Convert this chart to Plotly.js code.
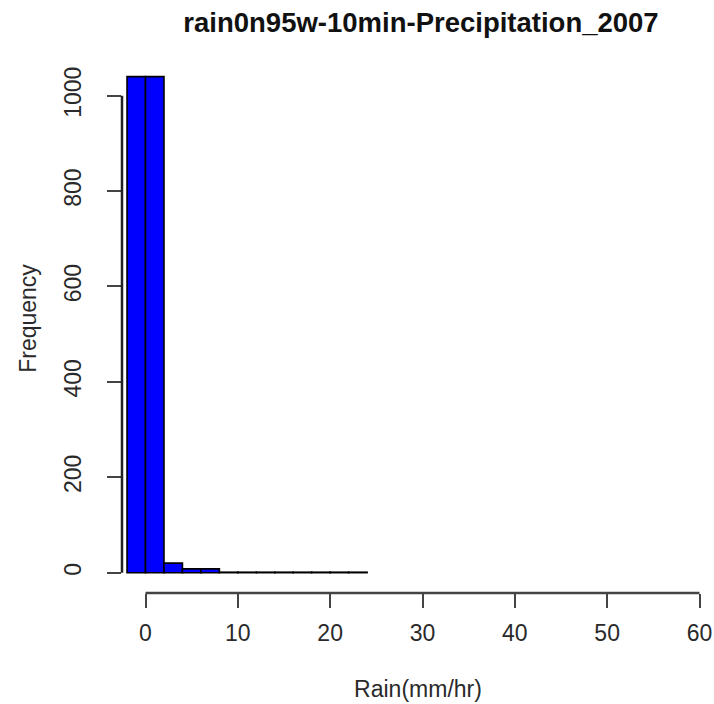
<!DOCTYPE html>
<html>
<head>
<meta charset="utf-8">
<script src="https://cdn.plot.ly/plotly-3.0.1.min.js"></script>
<style>html,body{margin:0;padding:0;background:#fff;}#chart{width:714px;height:704px;}</style>
</head>
<body>
<div id="chart"></div>
<script>
// Histogram bin edges (Rain, mm/hr) and counts
const binEdges = [-2, 0, 2, 4, 6, 8, 10, 12, 14, 16, 18, 20, 22, 24];
const counts   = [1040, 1040, 20, 8, 8, 1, 1, 1, 1, 1, 1, 1, 1];
const xTicks = [0, 10, 20, 30, 40, 50, 60];
const yTicks = [0, 200, 400, 600, 800, 1000];
const chartTitle = "rain0n95w-10min-Precipitation_2007";
const xTitle = "Rain(mm/hr)";
const yTitle = "Frequency";

const mids = counts.map((c, i) => (binEdges[i] + binEdges[i + 1]) / 2);
const widths = counts.map((c, i) => binEdges[i + 1] - binEdges[i]);

const font = {family: "Liberation Sans, Arial, sans-serif", size: 23, color: "#2a2a2a"};

const trace = {
  type: "bar",
  x: mids,
  y: counts,
  width: widths,
  marker: {color: "#0000ff", line: {color: "#000000", width: 1.6}},
  hoverinfo: "x+y"
};

const layout = {
  width: 714, height: 704,
  margin: {l: 122, r: 0, t: 44, b: 111, pad: 0},
  paper_bgcolor: "#ffffff", plot_bgcolor: "#ffffff",
  showlegend: false,
  font: font,
  title: {text: chartTitle, x: 421 / 714, xanchor: "center", y: 1 - 22 / 704, yanchor: "middle", yref: "container",
          font: {family: "Liberation Sans, Arial, sans-serif", size: 27.5, color: "#111111", weight: "bold"}},
  xaxis: {
    range: [-2.545, 61.57], showgrid: false, zeroline: false, showline: false,
    tickmode: "array", tickvals: xTicks, ticktext: xTicks.map(String),
    ticks: "outside", ticklen: 14, tickwidth: 2, tickcolor: "#444",
    tickfont: font, ticklabelstandoff: 5,
    title: {text: xTitle, font: font, standoff: 36}
  },
  yaxis: {
    range: [-42.6, 1108.3], showgrid: false, zeroline: false, showline: false,
    tickmode: "array", tickvals: yTicks, ticktext: yTicks.map(String),
    ticks: "outside", ticklen: 14, tickwidth: 2, tickcolor: "#444",
    tickangle: -90, tickfont: font, ticklabelstandoff: 17,
    title: {text: yTitle, font: font, standoff: 16}
  },
  shapes: [
    {type: "line", xref: "x", yref: "paper", x0: xTicks[0], x1: xTicks[xTicks.length - 1], y0: 0, y1: 0,
     line: {color: "#444", width: 2.5}},
    {type: "line", xref: "paper", yref: "y", x0: 0, x1: 0, y0: yTicks[0], y1: yTicks[yTicks.length - 1],
     line: {color: "#222", width: 2.5}}
  ],
  bargap: 0
};

Plotly.newPlot("chart", [trace], layout, {displayModeBar: false, staticPlot: true});
</script>
</body>
</html>
